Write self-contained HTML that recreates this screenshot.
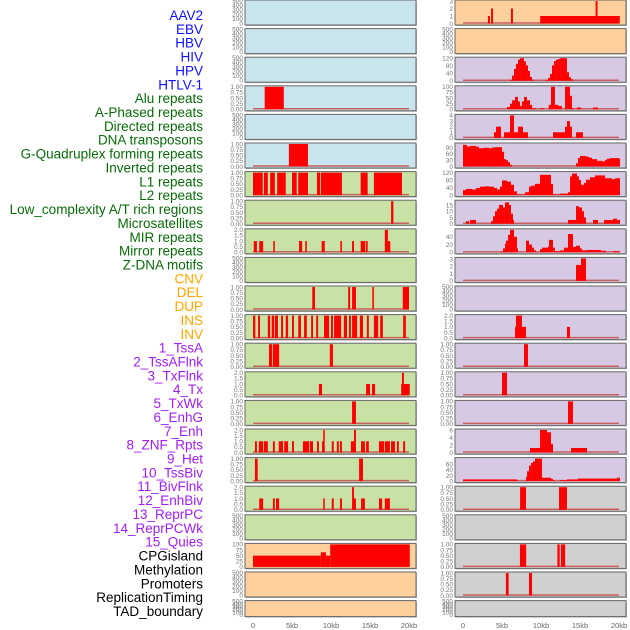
<!DOCTYPE html>
<html><head><meta charset="utf-8"><style>
html,body{margin:0;padding:0;background:#fff;}
svg{display:block;font-family:"Liberation Sans",sans-serif;}
</style></head><body>
<svg id="chart" width="630" height="630" viewBox="0 0 630 630" xmlns="http://www.w3.org/2000/svg"></svg>
<script>
// ---- labels ----
const trackLabels = ["AAV2","EBV","HBV","HIV","HPV","HTLV-1","Alu repeats","A-Phased repeats","Directed repeats","DNA transposons","G-Quadruplex forming repeats","Inverted repeats","L1 repeats","L2 repeats","Low_complexity A/T rich regions","Microsatellites","MIR repeats","Mirror repeats","Z-DNA motifs","CNV","DEL","DUP","INS","INV","1_TssA","2_TssAFlnk","3_TxFlnk","4_Tx","5_TxWk","6_EnhG","7_Enh","8_ZNF_Rpts","9_Het","10_TssBiv","11_BivFlnk","12_EnhBiv","13_ReprPC","14_ReprPCWk","15_Quies","CPGisland","Methylation","Promoters","ReplicationTiming","TAD_boundary"];
const labelColors = ["#1010ff","#1010ff","#1010ff","#1010ff","#1010ff","#1010ff","#0a6a0a","#0a6a0a","#0a6a0a","#0a6a0a","#0a6a0a","#0a6a0a","#0a6a0a","#0a6a0a","#0a6a0a","#0a6a0a","#0a6a0a","#0a6a0a","#0a6a0a","#ffa500","#ffa500","#ffa500","#ffa500","#ffa500","#a020f0","#a020f0","#a020f0","#a020f0","#a020f0","#a020f0","#a020f0","#a020f0","#a020f0","#a020f0","#a020f0","#a020f0","#a020f0","#a020f0","#a020f0","#000","#000","#000","#000","#000"];
const xTickValues = [0,5,10,15,20];
const xTickLabels = ["0","5kb","10kb","15kb","20kb"];

// ---- left column data: [startKb, endKb, value] ----
const left3 = [[1.5,3.95,1]];
const left5 = [[4.6,7.05,1]];
const left6 = [[0,1.25,1],[1.4,1.9,1],[2.2,2.8,1],[3.1,4.2,1],[5.0,5.6,1],[5.8,7.05,1],[8.2,8.6,1],[8.7,11.4,1],[13.8,14.7,1],[15.5,19.1,1]];
const left7 = [[17.7,18.0,1]];
const left8 = [[0.1,0.5,1],[0.8,1.3,1],[2.6,2.8,1],[5.9,6.3,1],[6.7,6.9,1],[8.8,9.2,1],[11.2,11.4,1],[12.7,12.95,1],[13.8,14.4,1],[14.5,14.7,1],[16.9,17.3,2],[17.3,17.6,1]];
const left10 = [[7.6,7.95,1],[12.2,12.45,1],[12.7,13.2,1],[15.3,15.5,1],[19.2,20,1]];
const left11 = [[0,0.3,1],[0.65,0.9,1],[1.9,2.2,1],[2.4,2.7,1],[2.8,3.2,1],[3.6,3.85,1],[4.2,4.5,1],[5.0,5.25,1],[5.8,6.15,1],[6.55,6.9,1],[7.45,7.7,1],[8.1,8.35,1],[9.1,9.75,1],[10.0,10.25,1],[10.4,11.3,1],[11.65,12.05,1],[12.3,12.55,1],[12.7,13.35,1],[13.7,14.1,1],[14.6,14.85,1],[15.5,16.05,1],[16.3,16.65,1],[19.25,19.6,1]];
const left12 = [[2.05,2.45,1],[2.55,3.35,1],[9.85,10.25,1]];
const left13 = [[8.45,8.85,1],[14.5,15.0,1],[15.25,15.65,1],[19.0,20.1,1],[19.1,19.35,2]];
const left14 = [[12.7,13.2,1]];
const left15 = [[0.25,0.5,1],[0.75,1.3,1],[1.4,1.9,1],[2.55,2.8,1],[3.3,3.85,1],[4.0,4.5,1],[5.0,5.25,1],[6.4,7.2,1],[7.3,7.7,1],[8.2,8.45,1],[8.85,9.1,1],[9.0,9.2,2],[10.1,10.35,1],[10.75,11.0,1],[11.15,11.4,1],[12.55,13.1,1],[12.95,13.2,2],[13.85,14.35,1],[14.5,14.85,1],[16.15,16.8,1],[16.9,17.55,1],[17.7,18.2,1],[18.45,18.7,1],[19.25,19.5,1]];
const left16 = [[0.25,0.6,1],[13.6,14.1,1]];
const left17 = [[0.8,1.3,1],[2.55,2.8,1],[2.95,3.35,1],[9.0,9.2,1],[10.1,10.35,1],[11.15,11.4,1],[12.7,12.95,2],[12.95,13.2,1],[13.85,14.35,1],[16.15,16.55,1],[16.9,17.55,1]];
const left19 = [[0,8.7,50],[8.7,9.35,65],[9.35,9.9,50],[9.9,20.1,100]];

// ---- right column data ----
const right0 = [[3.2,3.45,1],[3.6,3.85,2],[6.15,6.4,2],[9.9,20.1,1],[17.0,17.25,3]];
const right2 = [[6.03,6.28,5],[6.28,6.54,27],[6.54,6.79,63],[6.79,7.05,90],[7.05,7.31,112],[7.31,7.56,120],[7.56,7.82,120],[7.82,8.08,103],[8.08,8.33,82],[8.33,8.59,52],[8.59,8.85,20],[8.85,9.1,5],[10.51,10.9,5],[10.9,11.15,15],[11.15,11.41,36],[11.41,11.67,82],[11.67,11.92,105],[11.92,12.18,112],[12.18,12.44,116],[12.44,13.33,120],[13.33,13.59,45],[13.59,13.85,18],[13.85,14.1,8]];
const right3 = [[5.64,6.03,10],[6.03,6.28,25],[6.28,6.67,40],[6.67,7.05,55],[7.05,7.31,35],[7.31,7.56,15],[7.56,7.82,35],[7.82,8.2,55],[8.2,8.59,40],[8.59,8.85,20],[8.85,9.36,5],[9.87,10.38,5],[11.0,11.28,20],[11.28,11.79,100],[11.79,12.18,20],[12.18,12.69,15],[13.08,13.72,100],[13.72,13.97,60],[13.97,14.23,5],[14.6,15.13,8],[16.67,17.3,8]];
const right4 = [[3.97,4.23,1],[4.23,4.87,2],[5.26,6.03,1],[6.03,6.54,4],[6.54,7.05,1],[7.05,7.69,2],[7.69,8.33,1],[11.54,13.08,1],[13.08,13.33,2],[13.33,13.72,3],[13.72,13.97,2],[14.49,15.38,1]];
const right5 = [[0,0.51,103],[0.51,0.9,95],[0.9,1.67,98],[1.67,2.05,94],[2.05,2.69,87],[2.69,3.33,89],[3.33,3.72,87],[3.72,4.1,90],[4.1,5.0,92],[5.0,5.26,70],[5.26,5.51,35],[5.51,5.77,30],[5.77,6.03,20],[6.03,6.28,8],[6.28,6.41,2],[14.49,14.74,15],[14.74,15.0,40],[15.0,15.77,50],[15.77,16.15,47],[16.15,16.54,42],[16.54,17.18,35],[17.18,17.82,27],[17.82,18.21,25],[18.21,18.46,32],[18.46,18.85,37],[18.85,20.0,40],[20.0,20.13,37]];
const right6 = [[0,0.38,27],[0.38,1.15,33],[1.15,1.67,30],[1.67,2.18,38],[2.18,2.82,45],[2.82,3.33,47],[3.33,3.97,45],[3.97,4.36,38],[4.36,4.74,30],[4.74,5.0,45],[5.0,5.64,78],[5.64,6.15,72],[6.15,6.54,55],[6.54,6.92,20],[6.92,7.95,3],[7.95,8.46,15],[8.46,8.72,45],[8.72,9.23,50],[9.23,9.87,60],[9.87,11.28,108],[11.28,11.54,60],[11.54,11.79,5],[11.79,12.44,3],[12.44,13.46,8],[13.46,13.72,15],[13.72,13.97,100],[13.97,14.62,115],[14.62,14.87,100],[14.87,15.13,80],[15.13,15.51,55],[15.51,15.77,65],[15.77,16.28,82],[16.28,16.92,95],[16.92,18.21,105],[18.21,19.1,90],[19.1,19.49,85],[19.49,20.13,90]];
const right7 = [[0.38,0.77,2],[0.9,1.67,3],[3.59,3.85,2],[3.85,4.1,6],[4.1,4.36,10],[4.36,4.62,12],[4.62,5.13,15],[5.13,5.38,13],[5.38,5.9,17],[5.9,6.15,15],[6.15,6.41,8],[6.41,6.54,3],[13.46,14.49,3],[14.49,14.87,14],[14.87,15.26,13],[15.26,15.51,10],[15.51,15.77,5],[16.67,17.31,3],[18.08,19.23,3],[19.23,19.74,4],[19.74,20.13,3]];
const right8 = [[4.87,5.13,2],[5.13,5.38,10],[5.38,5.51,22],[5.51,5.77,30],[5.77,6.03,45],[6.03,6.54,58],[6.54,6.92,40],[6.92,7.05,10],[8.08,8.46,30],[8.46,8.85,20],[8.85,9.1,12],[9.1,9.36,5],[9.87,10.13,8],[10.13,10.9,12],[10.9,11.03,15],[11.03,11.54,32],[11.54,11.79,12],[11.79,12.44,3],[12.44,12.95,5],[12.95,13.46,12],[13.46,14.1,47],[14.1,14.49,14],[14.49,15.0,17],[15.0,15.26,10],[15.26,15.9,5],[15.9,17.69,6],[17.69,18.33,4],[19.23,20.13,3]];
const right9 = [[14.49,15.13,2.2],[15.13,15.77,3.1]];
const right11 = [[6.67,8.08,1],[6.79,7.56,2],[13.33,13.72,1]];
const right12 = [[7.82,8.33,1]];
const right13 = [[5.0,5.64,1]];
const right14 = [[13.46,14.1,1]];
const right15 = [[8.59,9.87,1.2],[9.87,10.77,6],[10.77,11.28,5.4],[11.28,11.54,2.3],[13.85,15.9,1.2]];
const right16 = [[0,6.92,6],[6.92,7.05,3],[8.08,8.21,15],[8.21,8.46,35],[8.46,8.72,55],[8.72,8.97,65],[8.97,9.23,70],[9.23,10.13,80],[10.13,11.28,12],[11.28,11.54,8],[11.54,11.79,3],[12.44,13.33,3],[13.33,14.74,6],[14.74,19.74,9],[19.74,20.13,12]];
const right17 = [[7.32,8.08,1],[12.31,13.33,1]];
const right19 = [[7.3,8.1,1],[12.1,12.4,1],[12.55,13.1,1]];
const right20 = [[5.5,5.85,1],[8.46,8.85,1]];

// ---- tick label sets ----
const ticksEmpty = ["0","100","200","300","400","500"];
const ticksUnit = ["0.00","0.25","0.50","0.75","1.00"];
const ticksTwo = ["0.0","0.5","1.0","1.5","2.0"];

const leftPanels = [null,null,null,[left3,1],null,[left5,1],[left6,1],[left7,1],[left8,2],null,[left10,1],[left11,1],[left12,1],[left13,2],[left14,1],[left15,2],[left16,1],[left17,2],null,[left19,100],null,null];
const rightPanels = [[right0,3],null,[right2,120],[right3,100],[right4,4],[right5,107],[right6,120],[right7,18],[right8,58],[right9,3.1],null,[right11,2],[right12,1],[right13,1],[right14,1],[right15,6],[right16,80],[right17,1],null,[right19,1],[right20,1],null];
const tickMap = {"1":[[0,0.25,0.5,0.75,1],ticksUnit],"2":[[0,0.5,1,1.5,2],ticksTwo],"3":[[0,1,2,3],["0","1","2","3"]],"3.1":[[0,1,2,3],["0","1","2","3"]],"4":[[0,1,2,3,4],["0","1","2","3","4"]],"100":[[0,25,50,75,100],["0","25","50","75","100"]],"120":[[0,40,80,120],["0","40","80","120"]],"107":[[0,30,60,90],["0","30","60","90"]],"18":[[0,5,10,15],["0","5","10","15"]],"58":[[0,20,40],["0","20","40"]],"6":[[0,2,4,6],["0","2","4","6"]],"80":[[0,20,40,60],["0","20","40","60"]]};
const leftBg = ["#c8e4ec","#c8e4ec","#c8e4ec","#c8e4ec","#c8e4ec","#c8e4ec","#c8e1a5","#c8e1a5","#c8e1a5","#c8e1a5","#c8e1a5","#c8e1a5","#c8e1a5","#c8e1a5","#c8e1a5","#c8e1a5","#c8e1a5","#c8e1a5","#c8e1a5","#fdd09e","#fdd09e","#fdd09e"];
const rightBg = ["#fdd09e","#fdd09e","#d7c8e3","#d7c8e3","#d7c8e3","#d7c8e3","#d7c8e3","#d7c8e3","#d7c8e3","#d7c8e3","#d7c8e3","#d7c8e3","#d7c8e3","#d7c8e3","#d7c8e3","#d7c8e3","#d7c8e3","#d0d0d0","#d0d0d0","#d0d0d0","#d0d0d0","#d0d0d0"];

const NS = "http://www.w3.org/2000/svg";
const svg = document.getElementById("chart");
function mk(tag, attrs, parent) {
  const e = document.createElementNS(NS, tag);
  for (const k in attrs) e.setAttribute(k, attrs[k]);
  (parent || svg).appendChild(e);
  return e;
}

trackLabels.forEach((t, k) => {
  const el = mk("text", {x: 203, y: 20 + k * 13.86, "text-anchor": "end", "font-size": "13.5", fill: labelColors[k]});
  el.textContent = t;
  
  
});

function drawColumn(panels, bgs, px0, x0) {
  const xScale = kb => x0 + kb * 7.8;
  panels.forEach((cfg, i) => {
    const top = i * 28.6, H = i === 21 ? 16 : 25;
    const g = mk("g", {});
    
    
    mk("rect", {x: px0 + 1, y: top + 1, width: 171, height: H, fill: "#bbb"}, g);
    const bg = mk("rect", {x: px0, y: top, width: 171, height: H, fill: bgs[i], stroke: "#666", "stroke-width": 1}, g);
    
    
    const yTop = top + 1, yBase = top + H - 1.5;
    if (!cfg) {
      ticksEmpty.forEach((t, j) => {
        const tt = mk("text", {x: px0 - 2, y: yBase + 2 - j * (yBase - yTop) / 5, "text-anchor": "end", "font-size": "6.5", fill: "#777"}, g);
        tt.textContent = t;
        
        
      });
      return;
    }
    const data = cfg[0], ymax = cfg[1];
    const yScale = v => yBase - v / ymax * (yBase - yTop);
    const tk = tickMap[String(ymax)];
    tk[0].forEach((v, j) => {
      const tt = mk("text", {x: px0 - 2, y: yScale(v) + 2.3, "text-anchor": "end", "font-size": "6.5", fill: "#777"}, g);
      tt.textContent = tk[1][j];
      
      
    });
    const bl = mk("line", {x1: xScale(0), x2: xScale(20), y1: yBase - 0.5, y2: yBase - 0.5, stroke: "#c86060", "stroke-width": 1.5}, g);
    
    
    data.forEach(d => {
      const x1 = xScale(d[0]), x2 = xScale(d[1]), y = yScale(d[2]);
      const b = mk("rect", {x: x1, y: y, width: Math.max(1, x2 - x1), height: yBase - y, fill: "#ff0000"}, g);
      
      
    });
  });
  xTickValues.forEach((v, j) => {
    const t = mk("text", {x: xScale(v), y: 628, "text-anchor": "middle", "font-size": "7.5", fill: "#666"});
    t.textContent = xTickLabels[j];
    
    
  });
}
drawColumn(leftPanels, leftBg, 245, 253);
drawColumn(rightPanels, rightBg, 455, 463);
</script>
</body></html>
